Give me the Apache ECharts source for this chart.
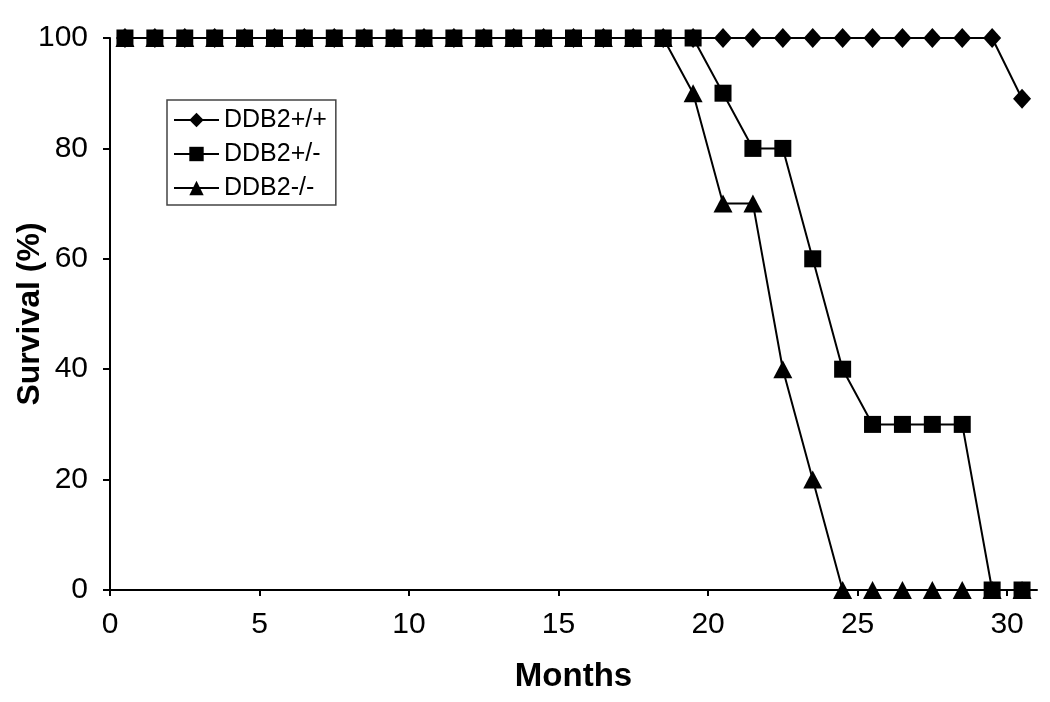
<!DOCTYPE html>
<html><head><meta charset="utf-8">
<script src="https://cdn.jsdelivr.net/npm/echarts@6/dist/echarts.min.js"></script>
<style>html,body{margin:0;padding:0;background:#fff}#c{width:1050px;height:702px}</style>
</head><body><div id="c"></div>
<script>
const months = [0.5,1.5,2.5,3.5,4.5,5.5,6.5,7.5,8.5,9.5,10.5,11.5,12.5,13.5,14.5,15.5,16.5,17.5,18.5,19.5,20.5,21.5,22.5,23.5,24.5,25.5,26.5,27.5,28.5,29.5,30.5];
const wildType = [100,100,100,100,100,100,100,100,100,100,100,100,100,100,100,100,100,100,100,100,100,100,100,100,100,100,100,100,100,100,89];
const hetero = [100,100,100,100,100,100,100,100,100,100,100,100,100,100,100,100,100,100,100,100,90,80,80,60,40,30,30,30,30,0,0];
const knockout = [100,100,100,100,100,100,100,100,100,100,100,100,100,100,100,100,100,100,100,90,70,70,40,20,0,0,0,0,0,0,0];
const seriesNames = ['DDB2+/+','DDB2+/-','DDB2-/-'];
const xTicks = [0,5,10,15,20,25,30];
const yTicks = [0,20,40,60,80,100];

const font = '"Liberation Sans", Arial, Helvetica, sans-serif';
function pairs(ys){ return months.map((m,i)=>[m, ys[i]]); }
function mk(name, ys, symbol, size, z){
  return {name, type:'line', data:pairs(ys), symbol, symbolSize:size, z,
    lineStyle:{color:'#000', width:2}, itemStyle:{color:'#000'}, animation:false};
}
const chart = echarts.init(document.getElementById('c'), null, {renderer:'canvas'});
chart.setOption({
  backgroundColor:'#fff',
  animation:false,
  grid:{left:110, right:13, top:38, bottom:112, containLabel:false, outerBoundsMode:'none'},
  legend:{
    data:seriesNames, orient:'vertical', left:167, top:100,
    backgroundColor:'#fff', borderColor:'#444', borderWidth:1.5,
    padding:[6,9,3,6], itemGap:6, itemWidth:45, itemHeight:18,
    textStyle:{fontFamily:font, fontSize:25, color:'#000', lineHeight:28}
  },
  xAxis:{
    type:'value', min:0, max:31, interval:5,
    name:'Months', nameLocation:'middle', nameGap:70, nameMoveOverlap:false,
    nameTextStyle:{fontFamily:font, fontSize:33, fontWeight:'bold', color:'#000'},
    axisLine:{show:true, lineStyle:{color:'#000', width:2}},
    axisTick:{show:true, length:6, lineStyle:{color:'#000', width:2}},
    axisLabel:{fontFamily:font, fontSize:30, color:'#000', margin:20, showMaxLabel:false,
      formatter:v=> xTicks.includes(v) ? String(v) : ''},
    splitLine:{show:false}
  },
  yAxis:{
    type:'value', min:0, max:100, interval:20,
    name:'Survival (%)', nameLocation:'middle', nameGap:64, nameRotate:90, nameMoveOverlap:false,
    nameTextStyle:{fontFamily:font, fontSize:32, fontWeight:'bold', color:'#000'},
    axisLine:{show:true, lineStyle:{color:'#000', width:2}},
    axisTick:{show:true, length:7, lineStyle:{color:'#000', width:2}},
    axisLabel:{fontFamily:font, fontSize:30, color:'#000', margin:22,
      formatter:v=> yTicks.includes(v) ? String(v) : ''},
    splitLine:{show:false}
  },
  series:[
    mk(seriesNames[0], wildType, 'diamond', [18,20], 2),
    mk(seriesNames[2], knockout, 'triangle', [19,18], 3),
    mk(seriesNames[1], hetero, 'rect', 17, 4)
  ]
});
</script></body></html>
